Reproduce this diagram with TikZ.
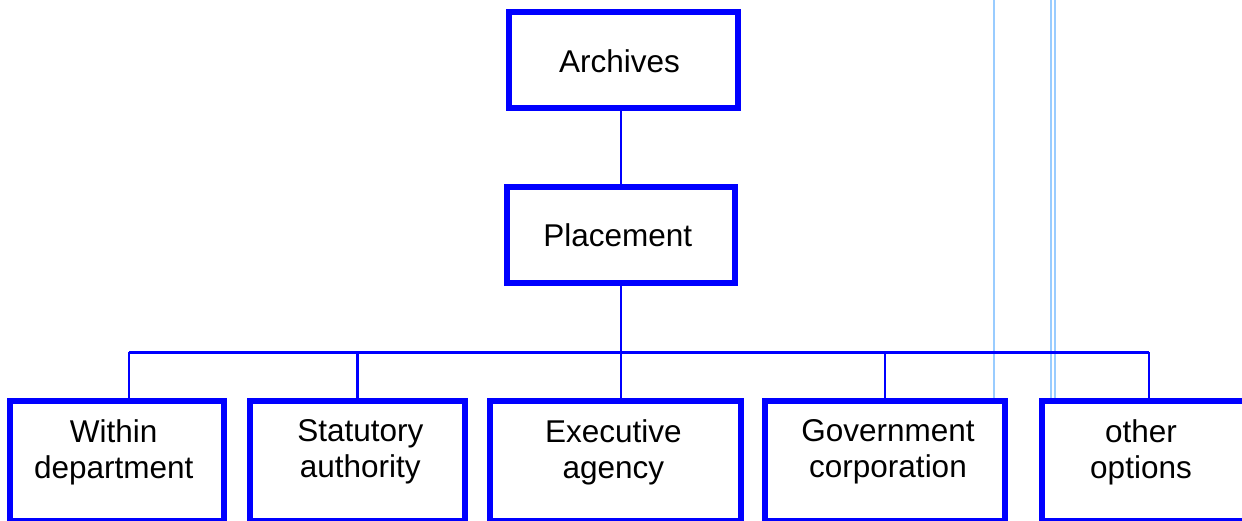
\documentclass[tikz,border=0pt]{standalone}
\usepackage{fontspec}
\setmainfont{Liberation Sans}
\definecolor{boxblue}{RGB}{0,0,255}
\definecolor{guide}{RGB}{153,204,255}
\begin{document}
\begin{tikzpicture}[x=1pt,y=-1pt,
  box/.style={draw=boxblue, line width=6pt, fill=white, rectangle, inner sep=0pt},
  toptext/.style={font=\fontsize{31.5}{36}\selectfont, inner sep=0pt, anchor=base},
  lbl/.style={font=\fontsize{31.5}{36}\selectfont, align=center, inner sep=0pt, anchor=north},
  link/.style={draw=boxblue, line width=2.5pt},
  guideline/.style={draw=guide, line width=2pt}]
\useasboundingbox (0,0) rectangle (1242,520);
% light guide lines
\coordinate (g1) at (993.5,0);
\coordinate (g2) at (1050.7,0);
\coordinate (g3) at (1054.7,0);
\draw[guideline] (g1) -- ++(0,402);
\draw[guideline] (g2) -- ++(0,402);
\draw[guideline] (g3) -- ++(0,402);
% bus
\coordinate (busL) at (129,352.3);
\coordinate (busR) at (1149,352.3);
\draw[link] (busL) -- (busR);
% boxes
\node[box, minimum width=229pt, minimum height=95.4pt] (arch) at (623.5,60) {};
\node[box, minimum width=228.3pt, minimum height=96pt] (plac) at (621,235) {};
\node[box, minimum width=214.3pt, minimum height=120pt] (within) at (116.9,461) {};
\node[box, minimum width=215.6pt, minimum height=120pt] (stat) at (357.5,461) {};
\node[box, minimum width=251.6pt, minimum height=120pt] (exec) at (615.5,461) {};
\node[box, minimum width=239.7pt, minimum height=120pt] (gov) at (885.2,461) {};
\node[box, minimum width=203pt, minimum height=120pt] (other) at (1143.5,461) {};
% texts
\node[toptext] (tarch) at (619.5,72) {Archives};
\node[toptext] (tplac) at (617.8,246.5) {Placement};
\node[lbl] (twithin) at (113.7,419.5) {Within\\department};
\node[lbl] (tstat) at (360.3,419.5) {Statutory\\authority};
\node[lbl] (texec) at (613.3,419.5) {Executive\\agency};
\node[lbl] (tgov) at (888,419.5) {Government\\corporation};
\node[lbl] (tother) at (1141,419.5) {other\\options};
% connectors
\draw[link] (plac.north |- arch.south) -- (plac.north);
\draw[link] (plac.south) -- (plac.south |- exec.north);
\draw[link] (busL) -- (busL |- within.north);
\draw[link] (stat.north |- busL) -- (stat.north);
\draw[link] (gov.north |- busL) -- (gov.north);
\draw[link] (busR) -- (busR |- other.north);
\end{tikzpicture}
\end{document}
